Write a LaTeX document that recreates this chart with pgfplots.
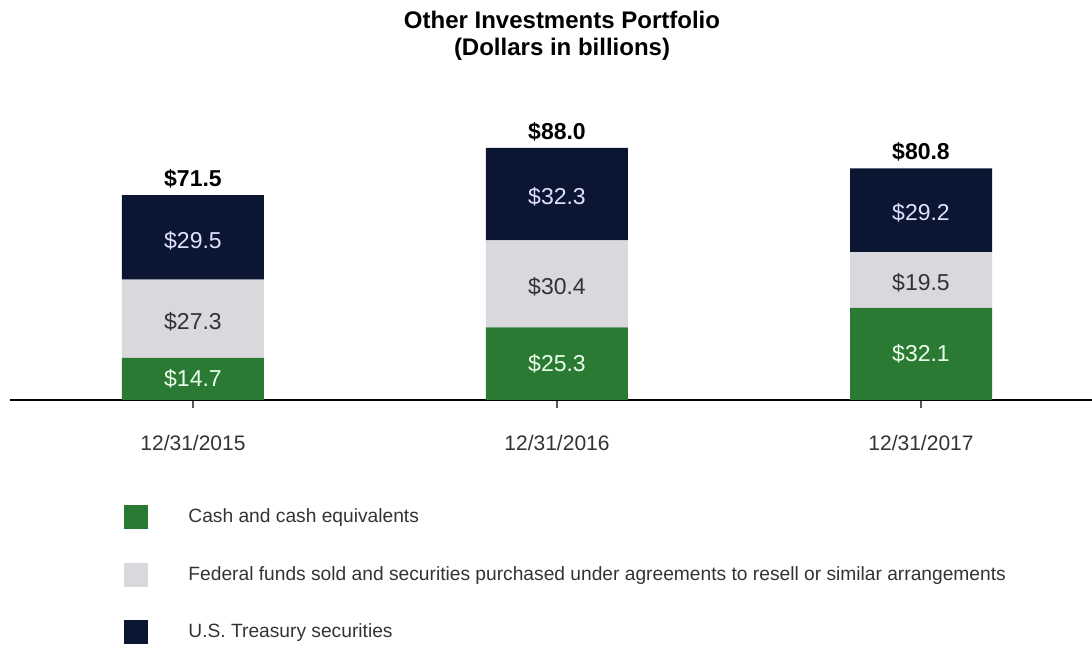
\documentclass[border=0pt]{standalone}
\usepackage{pgfplots}
\pgfplotsset{compat=1.18}
\usepackage{pgfplotstable}
\usepackage{fontspec}
\setmainfont{Liberation Sans}
\definecolor{cgreen}{HTML}{2B7A33}
\definecolor{cgray}{HTML}{D9D8DD}
\definecolor{cnavy}{HTML}{0B1633}
\definecolor{ctext}{HTML}{333333}

% segment values
\pgfplotstableread{
x cash fed treas
0 14.7 27.3 29.5
1 25.3 30.4 32.3
2 32.1 19.5 29.2
}\stacked
% label positions (segment centres and totals)
\pgfplotstableread{
x cashmid cash fedmid fed treasmid treas total
0 7.35 14.7 28.35 27.3 56.75 29.5 71.5
1 12.65 25.3 40.50 30.4 71.85 32.3 88.0
2 16.05 32.1 41.85 19.5 66.20 29.2 80.8
}\labels

\pgfplotsset{
  common/.style={
    at={(0pt,0pt)}, anchor=south west,
    scale only axis, width=541pt, height=143.3pt,
    xmin=-0.5027, xmax=2.4698, ymin=0, ymax=100,
    clip=false,
    /pgf/number format/assume math mode=true,
  },
  lab/.style={only marks, mark=*, mark size=0pt,
    nodes near coords={\$\pgfmathprintnumber[fixed,fixed zerofill,precision=1,assume math mode=true]{\pgfplotspointmeta}},
    point meta=explicit},
}

\begin{document}
\begin{tikzpicture}
\useasboundingbox (-5pt,-123pt) rectangle (541pt,200pt);
\node[align=center, font=\fontsize{12}{13.5}\selectfont\bfseries, text=black] at (276pt,182pt)
  {Other Investments Portfolio\\(Dollars in billions)};
\begin{axis}[common,
  ybar stacked, bar width=71pt,
  axis x line=bottom, axis y line=none,
  x axis line style={-, line width=1pt, black},
  xtick={0,1,2}, xticklabels={12/31/2015,12/31/2016,12/31/2017},
  tick align=outside, major tick length=4pt,
  xtick style={draw=black!65, line width=0.6pt},
  xticklabel style={font=\fontsize{10.5}{12}\selectfont, text=ctext, yshift=-10pt},
  legend cell align=left,
  legend image code/.code={\draw[#1, draw=none] (0pt,-6pt) rectangle (12pt,6pt);},
  legend style={at={(0.1054,-0.3664)}, anchor=north west, draw=none, fill=none,
    inner sep=0pt, row sep=16.75pt,
    font=\fontsize{9.6}{11}\selectfont, text=ctext,
    nodes={inner sep=0pt},
    /tikz/every odd column/.append style={column sep=20pt}},
]
\addplot[fill=cgreen, draw=none] table[x=x, y=cash] {\stacked};
\addplot[fill=cgray, draw=none] table[x=x, y=fed] {\stacked};
\addplot[fill=cnavy, draw=none] table[x=x, y=treas] {\stacked};
\legend{Cash and cash equivalents,
  Federal funds sold and securities purchased under agreements to resell or similar arrangements,
  U.S. Treasury securities}
\end{axis}
\begin{axis}[common, axis lines=none,
  every node near coord/.style={anchor=center, font=\fontsize{11.5}{13}\selectfont}]
\addplot[lab, every node near coord/.append style={text=green!8!white}] table[x=x, y=cashmid, meta=cash] {\labels};
\addplot[lab, every node near coord/.append style={text=ctext, yshift=-1.5pt}] table[x=x, y=fedmid, meta=fed] {\labels};
\addplot[lab, every node near coord/.append style={text=white!88!blue, yshift=-1.5pt}] table[x=x, y=treasmid, meta=treas] {\labels};
\addplot[lab, every node near coord/.append style={text=black, anchor=south, yshift=0pt, font=\fontsize{11.5}{13}\selectfont\bfseries}] table[x=x, y=total, meta=total] {\labels};
\end{axis}
\end{tikzpicture}
\end{document}
